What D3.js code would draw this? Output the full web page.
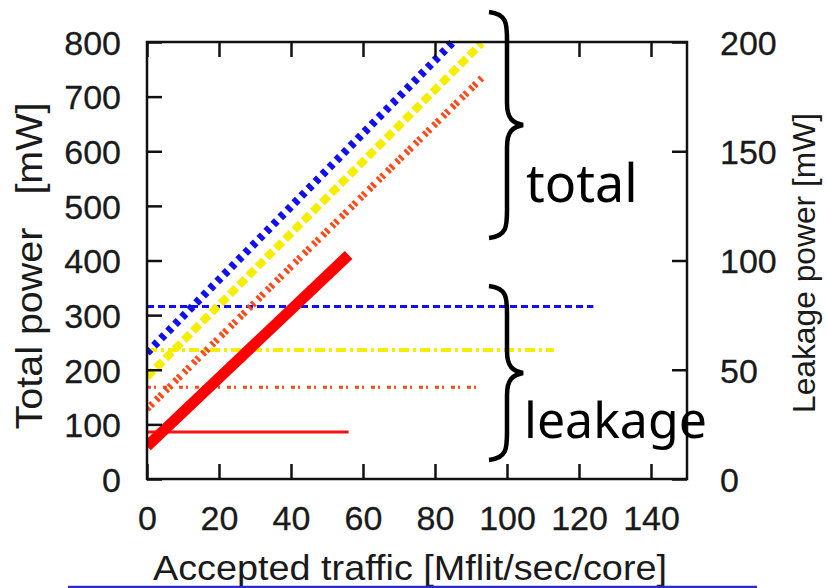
<!DOCTYPE html>
<html>
<head>
<meta charset="utf-8">
<script src="https://cdn.jsdelivr.net/npm/d3@7"></script>
<style>
  body { margin: 0; background: #fff; }
  svg { display: block; }
  .tick text { font-family: "Liberation Sans", Arial, sans-serif; font-size: 34px; fill: #1a1a1a; stroke: #1a1a1a; stroke-width: 0.3px; }
  .title { font-family: "Liberation Sans", Arial, sans-serif; fill: #1a1a1a; }
  .note { font-family: "Noto Sans", "Open Sans", sans-serif; font-size: 50px; fill: #000; }
</style>
</head>
<body>
<svg id="chart" width="827" height="588"></svg>
<script>
// Values
const xTicks = [0, 20, 40, 60, 80, 100, 120, 140];
const yTicks = [0, 100, 200, 300, 400, 500, 600, 700, 800];
const yRightTicks = [0, 50, 100, 150, 200];

// total power series [traffic, mW]
const totalSeries = [
  { name: 'blue',   color: '#1010ee', width: 8, dash: '5,5',      pts: [[0, 231], [85, 800]] },
  { name: 'yellow', color: '#f5ee00', width: 8, dash: '9,4',      pts: [[0, 187], [93, 798]] },
  { name: 'orange', color: '#ff4a1a', width: 7, dash: '3,2,3,5',  pts: [[0, 128], [93, 734]] },
  { name: 'red',    color: '#ff0000', width: 11, dash: null,      pts: [[0, 60], [56, 410]] }
];

// leakage power series [traffic, mW] on right axis
const leakSeries = [
  { name: 'blue',   color: '#1010ee', width: 3, dash: '7,4',        pts: [[0, 79], [124, 79]] },
  { name: 'yellow', color: '#f5ee00', width: 4, dash: '10,4,3,4',   pts: [[0, 59], [113, 59]] },
  { name: 'orange', color: '#ff4a1a', width: 3, dash: '4,3,2,7',    pts: [[0, 42], [93, 42]] },
  { name: 'red',    color: '#ff1010', width: 3, dash: null,         pts: [[0, 21.5], [56, 21.5]] }
];

const svg = d3.select('#chart');
const plot = { left: 147, right: 687, top: 42, bottom: 479 };

const x = d3.scaleLinear().domain([0, 150]).range([plot.left, plot.right]);
const y = d3.scaleLinear().domain([0, 800]).range([plot.bottom, plot.top]);
const yR = d3.scaleLinear().domain([0, 200]).range([plot.bottom, plot.top]);

svg.append('clipPath').attr('id', 'plot-clip')
  .append('rect').attr('x', plot.left).attr('y', plot.top - 6)
  .attr('width', plot.right - plot.left).attr('height', plot.bottom - plot.top + 6);

const gLines = svg.append('g').attr('clip-path', 'url(#plot-clip)');

const lineL = d3.line().x(d => x(d[0])).y(d => y(d[1]));
const lineR = d3.line().x(d => x(d[0])).y(d => yR(d[1]));

// leakage lines first, then totals
leakSeries.forEach(s => {
  gLines.append('path').attr('d', lineR(s.pts))
    .attr('fill', 'none').attr('stroke', s.color).attr('stroke-width', s.width)
    .attr('stroke-dasharray', s.dash);
});
totalSeries.forEach(s => {
  gLines.append('path').attr('d', lineL(s.pts))
    .attr('fill', 'none').attr('stroke', s.color).attr('stroke-width', s.width)
    .attr('stroke-dasharray', s.dash);
});

// axes with inward ticks
const tickLen = 15;
function styleAxis(g) {
  g.select('.domain').remove();
  g.selectAll('.tick line').attr('stroke', '#111').attr('stroke-width', 2.5);
}
svg.append('g').attr('transform', `translate(0,${plot.bottom})`)
  .call(d3.axisBottom(x).tickValues(xTicks).tickSize(-tickLen).tickPadding(27))
  .call(styleAxis);
svg.append('g').attr('transform', `translate(0,${plot.top})`)
  .call(d3.axisTop(x).tickValues(xTicks).tickSize(-tickLen).tickFormat(''))
  .call(styleAxis);
const gLeft = svg.append('g').attr('transform', `translate(${plot.left},0)`)
  .call(d3.axisLeft(y).tickValues(yTicks).tickSize(-tickLen).tickPadding(26))
  .call(styleAxis);
const gRight = svg.append('g').attr('transform', `translate(${plot.right},0)`)
  .call(d3.axisRight(yR).tickValues(yRightTicks).tickSize(-tickLen).tickPadding(33))
  .call(styleAxis);

gLeft.selectAll('.tick text').attr('dy', '0.36em');
gRight.selectAll('.tick text').attr('dy', '0.36em');

// frame
svg.append('rect').attr('x', plot.left).attr('y', plot.top)
  .attr('width', plot.right - plot.left).attr('height', plot.bottom - plot.top)
  .attr('fill', 'none').attr('stroke', '#111').attr('stroke-width', 2.5);

// axis titles
svg.append('text').attr('class', 'title')
  .attr('transform', 'translate(42,266) rotate(-90)')
  .attr('text-anchor', 'middle').style('white-space', 'pre')
  .style('font-size', '36px').attr('textLength', 327).attr('lengthAdjust', 'spacingAndGlyphs')
  .text('Total power   [mW]');
svg.append('text').attr('class', 'title')
  .attr('transform', 'translate(815,263) rotate(-90)')
  .attr('text-anchor', 'middle')
  .style('font-size', '31px').attr('textLength', 300).attr('lengthAdjust', 'spacingAndGlyphs')
  .text('Leakage power [mW]');
svg.append('text').attr('class', 'title')
  .attr('x', 410).attr('y', 580).attr('text-anchor', 'middle')
  .style('font-size', '35px').attr('textLength', 514).attr('lengthAdjust', 'spacingAndGlyphs')
  .text('Accepted traffic [Mflit/sec/core]');

// blue rule at the bottom
svg.append('line').attr('x1', 68).attr('x2', 757).attr('y1', 587).attr('y2', 587)
  .attr('stroke', '#2c2cc8').attr('stroke-width', 2.5);

// braces
function brace(x0, y0, y1, tipX) {
  const mid = (y0 + y1) / 2;
  const vx = x0 + 18;
  return `M${x0},${y0} C${vx},${y0 + 2} ${vx},${y0 + 12} ${vx},${y0 + 28}
          L${vx},${mid - 22} C${vx},${mid - 6} ${vx + 6},${mid - 2} ${tipX},${mid}
          C${vx + 6},${mid + 2} ${vx},${mid + 6} ${vx},${mid + 22}
          L${vx},${y1 - 28} C${vx},${y1 - 12} ${vx},${y1 - 2} ${x0},${y1}`;
}
svg.append('path').attr('d', brace(489, 12, 238, 523))
  .attr('fill', 'none').attr('stroke', '#000').attr('stroke-width', 4.5);
svg.append('path').attr('d', brace(489, 286, 460, 523))
  .attr('fill', 'none').attr('stroke', '#000').attr('stroke-width', 4.5);

svg.append('text').attr('class', 'note').attr('x', 526).attr('y', 202)
  .style('font-size', '52px').text('total');
svg.append('text').attr('class', 'note').attr('x', 524).attr('y', 438).text('leakage');
</script>
</body>
</html>
